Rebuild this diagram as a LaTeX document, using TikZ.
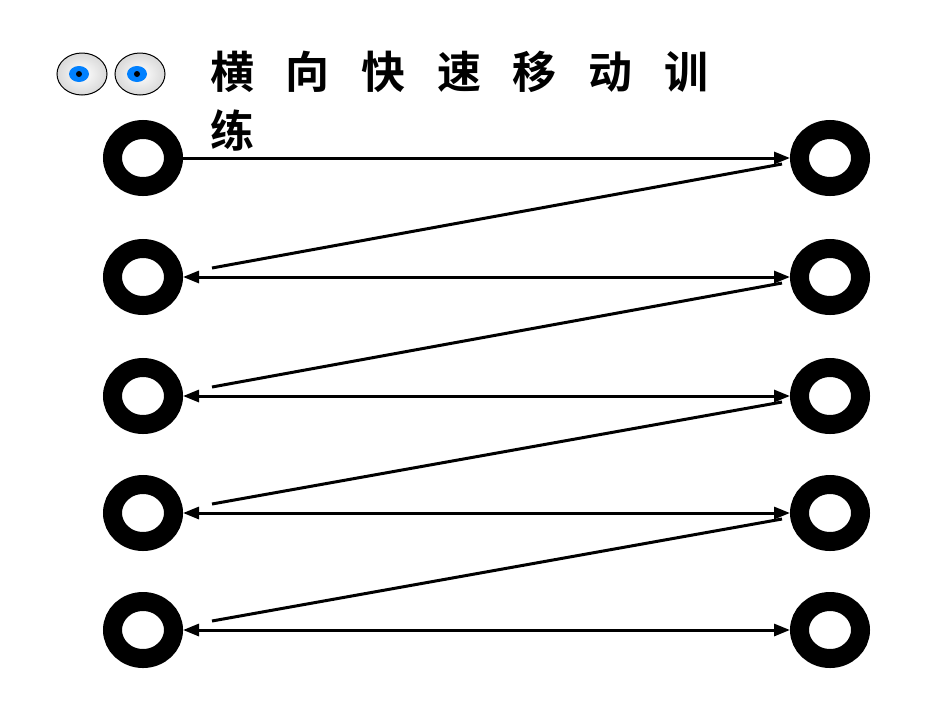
\documentclass[tikz,border=0pt]{standalone}
\usepackage{fontspec}
\newfontfamily\cjk{Noto Sans CJK SC Bold}
\usetikzlibrary{arrows.meta}
\begin{document}
\begin{tikzpicture}[x=1pt,y=-1pt,
  tip/.style={-{Triangle[length=16pt,width=12pt]}},
  dconn/.style={line width=3pt,{Triangle[length=16pt,width=12pt]}-{Triangle[length=16pt,width=12pt]}},
  ringline/.style={line width=19pt},
  ttl/.style={font=\cjk\fontsize{44}{44}\selectfont,anchor=west,inner sep=0pt}]
\useasboundingbox (0,0) rectangle (950,713);
% eyes
\foreach \cx in {82,140}{
  \shade[inner color=white,outer color=gray!30,draw=black,line width=1pt] (\cx,74) ellipse (25 and 21);
  \fill[blue!50!cyan] (\cx-3,74) ellipse (10 and 8);
  \fill[black] (\cx-3,74) circle (3);
}
\node[ttl] (t) at (210,72) {横\hspace{0.72em}向\hspace{0.72em}快\hspace{0.72em}速\hspace{0.72em}移\hspace{0.72em}动\hspace{0.72em}训};
\node[ttl] (t2) at (210,130) {练};
\foreach \i/\y in {1/158,2/277,3/396,4/513,5/630}{
  \draw[ringline] (143,\y) ellipse (30.5 and 28.5);
  \draw[ringline] (830,\y) ellipse (30.5 and 28.5);
  \coordinate (L\i) at (183,\y);
  \coordinate (R\i) at (790,\y);
  \coordinate (Ld\i) at (212,\y-9);
  \coordinate (Rd\i) at (782,\y+6);
}
\draw[line width=3pt,tip] (L1) -- (R1);
\foreach \i in {2,3,4,5}{
  \draw[dconn] (L\i) -- (R\i);
}
\foreach \i/\j in {1/2,2/3,3/4,4/5}{
  \draw[line width=3pt] (Rd\i) -- (Ld\j);
}
\end{tikzpicture}
\end{document}
